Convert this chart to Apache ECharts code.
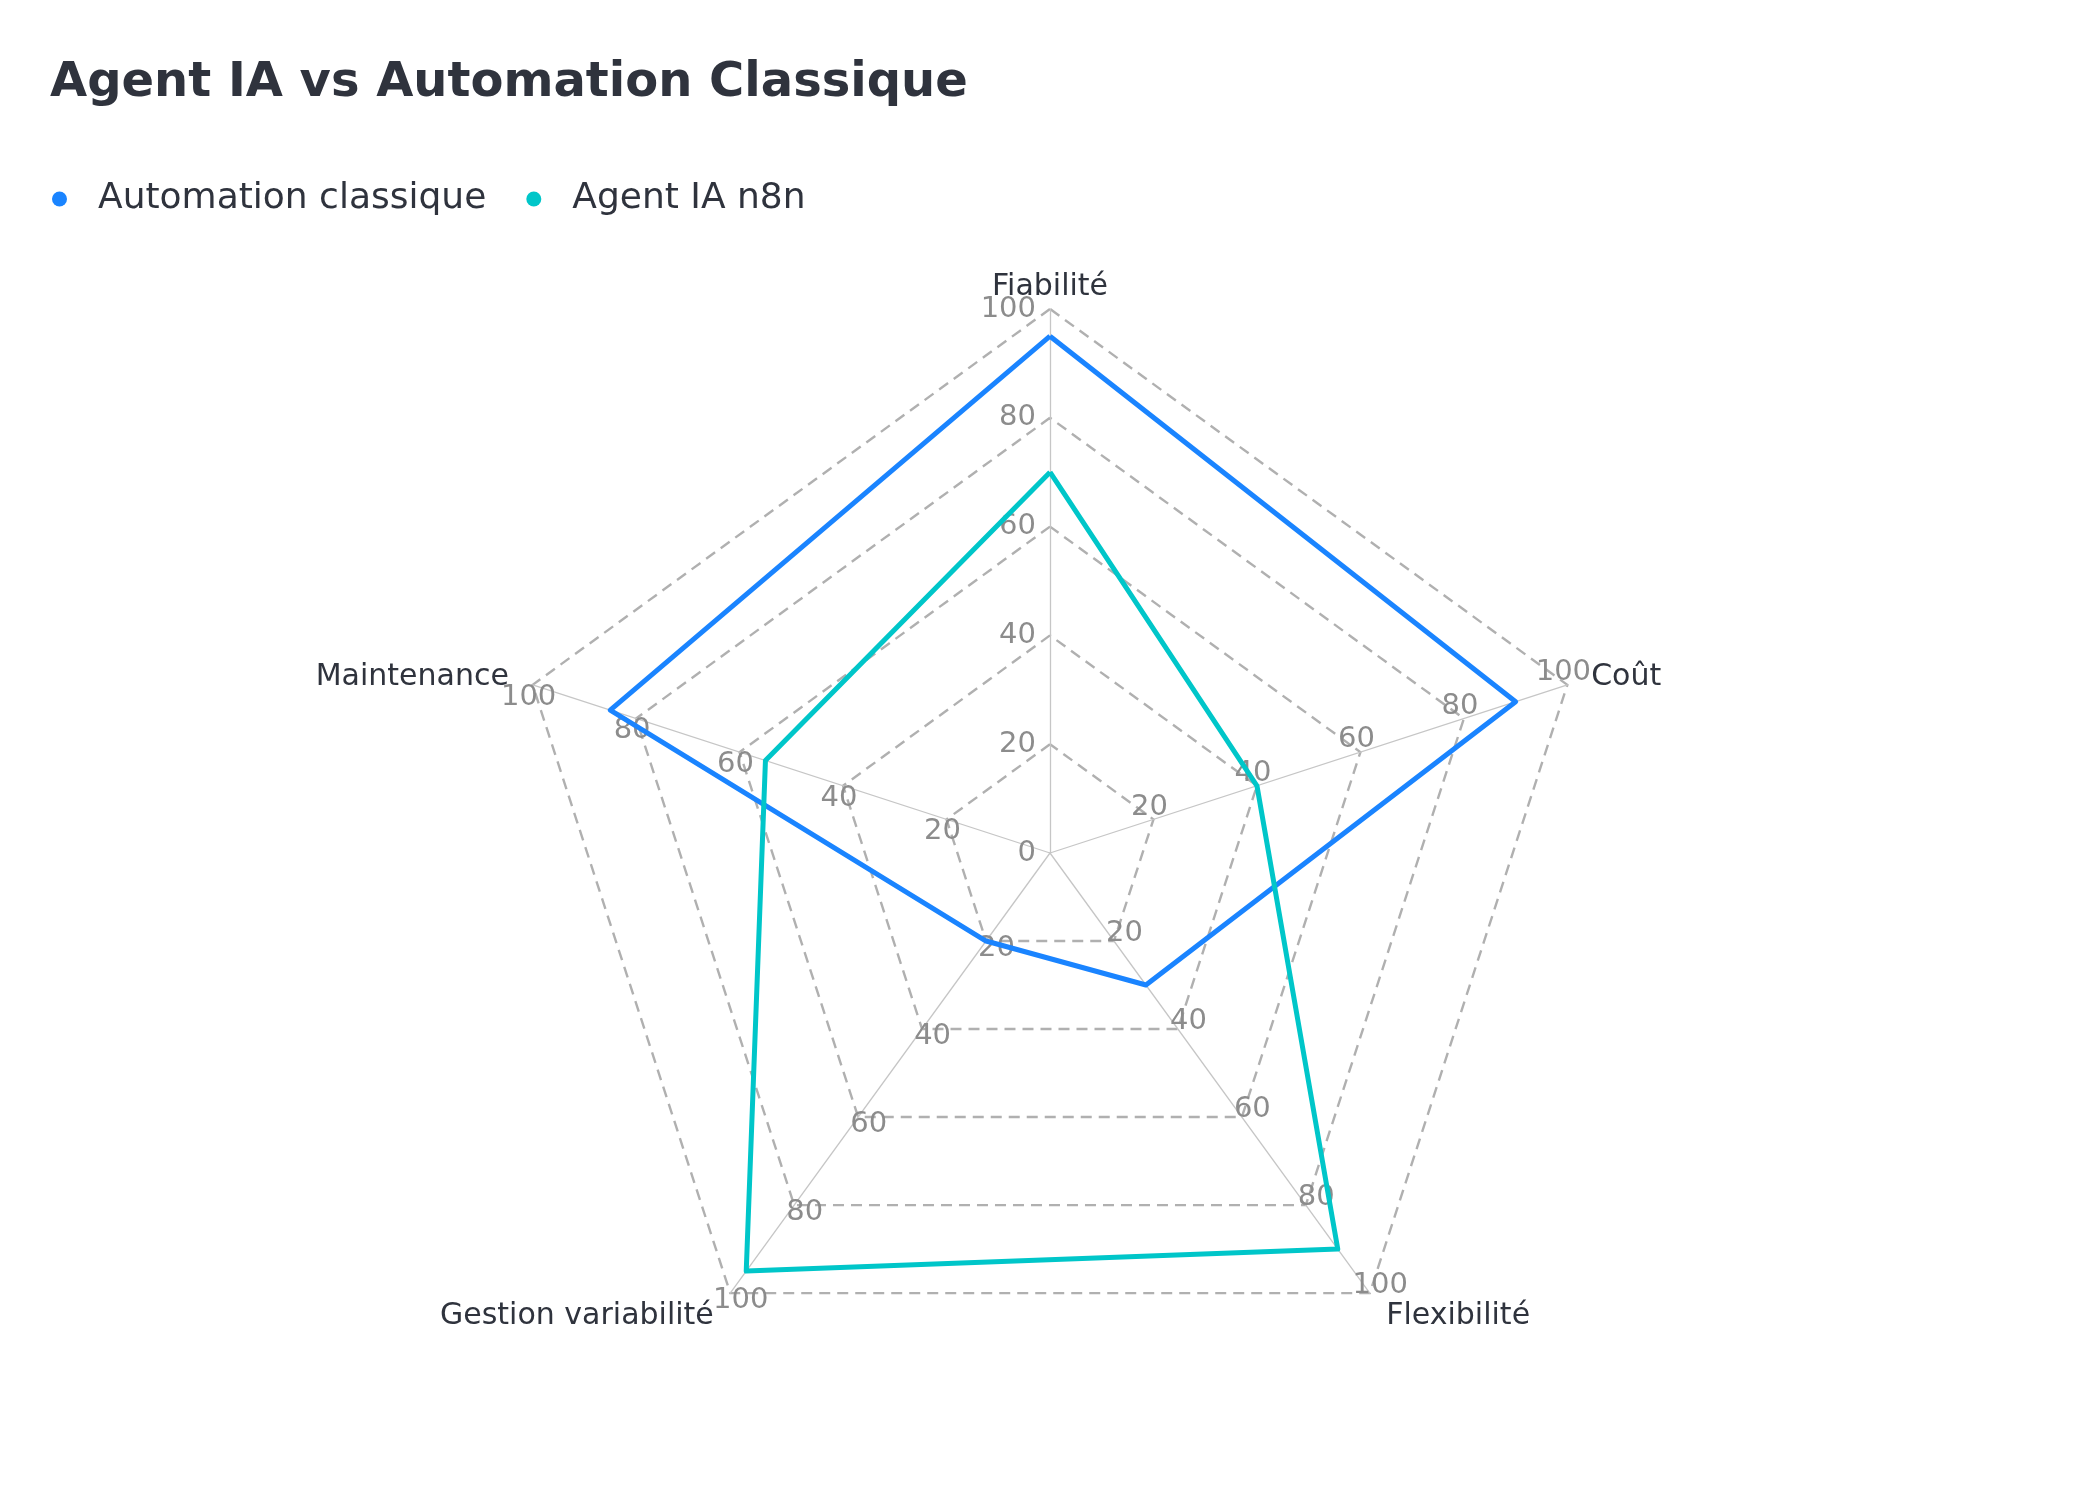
<!DOCTYPE html>
<html>
<head>
<meta charset="utf-8">
<title>Agent IA vs Automation Classique</title>
<script src="https://cdn.jsdelivr.net/npm/echarts@6/dist/echarts.min.js"></script>
<style>
  html, body { margin: 0; padding: 0; background: #fff; }
  #chart { width: 2100px; height: 1500px; }
</style>
</head>
<body>
<div id="chart"></div>
<script>
// Indicators listed counter-clockwise from the top (ECharts radar order)
const indicatorNames = ['Fiabilité', 'Maintenance', 'Gestion variabilité', 'Flexibilité', 'Coût'];
const indicatorMax = 100;

const seriesNames = ['Automation classique', 'Agent IA n8n'];
const automationValues = [95, 85, 20, 30, 90];
const agentValues = [70, 55, 95, 90, 40];

const seriesColors = ['#1a84ff', '#00c6c9'];

const chart = echarts.init(document.getElementById('chart'), null, { renderer: 'canvas' });

const FONT = 'DejaVu Sans';

// per-axis label/name placement (top axis keeps labels right-aligned on its left,
// the slanted axes get centred labels beside the tick)
function indicatorOpt(name, i) {
  const top = i === 0;
  return {
    name: name,
    min: 0,
    max: indicatorMax,
    nameGap: top ? 7 : (i === 1 || i === 4 ? 25 : 28),
    nameMoveOverlap: false,
    axisLabel: top
      ? { showMinLabel: true, margin: 14 }
      : { showMinLabel: false, margin: 13, align: 'center', verticalAlign: 'middle' }
  };
}

const option = {
  backgroundColor: '#ffffff',
  textStyle: { fontFamily: FONT },
  title: {
    text: 'Agent IA vs Automation Classique',
    left: 45,
    top: 55,
    textStyle: { fontFamily: FONT, fontSize: 48, fontWeight: 'bold', color: '#2f333d' }
  },
  legend: {
    data: seriesNames,
    left: 47,
    top: 176,
    icon: 'circle',
    itemWidth: 15,
    itemHeight: 15,
    itemGap: 40,
    textStyle: { fontFamily: FONT, fontSize: 36, color: '#2f333d', padding: [0, 0, 0, 26] }
  },
  radar: {
    center: [1050, 853],
    radius: 544,
    startAngle: 90,
    splitNumber: 5,
    shape: 'polygon',
    indicator: indicatorNames.map(indicatorOpt),
    axisName: { fontFamily: FONT, fontSize: 30, color: '#2f333d', padding: [8, 0, 0, 0] },
    axisLine: { show: true, lineStyle: { color: '#c6c6c6', width: 1.3 } },
    axisTick: { show: false },
    axisLabel: { show: true, fontFamily: FONT, fontSize: 29, color: '#8c8c8c', padding: [5, 0, 0, 0] },
    splitLine: { lineStyle: { color: '#b0b0b0', width: 2.4, type: [11, 7] } },
    splitArea: { show: false }
  },
  series: [{
    type: 'radar',
    symbol: 'none',
    data: [
      { name: seriesNames[0], value: automationValues,
        lineStyle: { color: seriesColors[0], width: 5 }, itemStyle: { color: seriesColors[0] } },
      { name: seriesNames[1], value: agentValues,
        lineStyle: { color: seriesColors[1], width: 5 }, itemStyle: { color: seriesColors[1] } }
    ]
  }]
};

chart.setOption(option);
window.addEventListener('resize', () => chart.resize());
</script>
</body>
</html>
